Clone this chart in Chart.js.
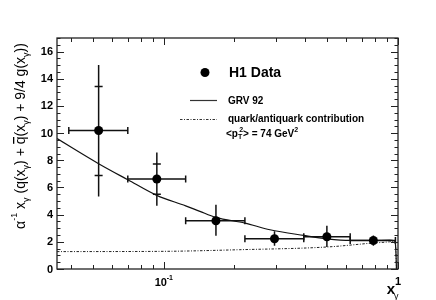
<!DOCTYPE html>
<html>
<head>
<meta charset="utf-8">
<script src="https://cdn.jsdelivr.net/npm/chart.js@4/dist/chart.umd.min.js"></script>
<style>
html,body{margin:0;padding:0;background:#fff;}
#wrap{width:436px;height:300px;position:relative;}
</style>
</head>
<body>
<div id="wrap"><canvas id="c" width="436" height="300"></canvas></div>
<script>
// ---- data ----
const dataX      = [0.0527, 0.0934, 0.167, 0.297, 0.497, 0.785];
const dataY      = [10.19, 6.62, 3.55, 2.23, 2.37, 2.10];
const dataXLow   = [0.0393, 0.0702, 0.124, 0.222, 0.396, 0.625];
const dataXHigh  = [0.0702, 0.124, 0.222, 0.396, 0.625, 0.975];
const dataYLowTot  = [5.34, 4.65, 2.45, 1.71, 1.62, 1.71];
const dataYHighTot = [15.02, 8.57, 4.73, 2.77, 3.18, 2.47];
const dataYLowStat  = [6.88, 5.51, null, null, null, null];
const dataYHighStat = [13.43, 7.72, null, null, null, null];

const grvX = [0.035, 0.0527, 0.0702, 0.0933, 0.124, 0.1426, 0.1667, 0.222, 0.284, 0.396, 0.498, 0.624, 0.78, 0.92, 0.965, 0.975, 0.981, 0.985];
const grvY = [9.6, 7.75, 6.57, 5.42, 4.65, 4.24, 3.8, 3.38, 2.89, 2.47, 2.22, 2.10, 2.10, 2.12, 2.08, 1.85, 1.0, 0.0];

const qX = [0.035, 0.1, 0.211, 0.498, 0.78, 0.92, 0.965, 0.978, 0.985];
const qY = [1.28, 1.30, 1.42, 1.62, 1.91, 2.0, 2.05, 1.6, 0.0];

const xMajorTicks = [0.1, 1];
const xMajorLabels = ['10', '1'];
const xMajorSup = ['-1', ''];
const xMinorTicks = [0.04,0.05,0.06,0.07,0.08,0.09,0.2,0.3,0.4,0.5,0.6,0.7,0.8,0.9];
const yMajorTicks = [0,2,4,6,8,10,12,14,16];
const yTickLabels = ['0','2','4','6','8','10','12','14','16'];
const legendLabels = ['H1 Data', 'GRV 92', 'quark/antiquark contribution'];

const FONT = '"Liberation Sans", Arial, Helvetica, sans-serif';

const framePlugin = {
  id: 'frame',
  beforeDatasetsDraw(chart) {
    const ctx = chart.ctx, xs = chart.scales.x, ys = chart.scales.y;
    ctx.save();
    ctx.strokeStyle = '#111';
    ctx.lineWidth = 1.5;
    for (let i = 0; i < dataX.length; i++) {
      const px = xs.getPixelForValue(dataX[i]);
      const py = ys.getPixelForValue(dataY[i]);
      const x1 = xs.getPixelForValue(dataXLow[i]);
      const x2 = xs.getPixelForValue(dataXHigh[i]);
      const y1 = ys.getPixelForValue(dataYLowTot[i]);
      const y2 = ys.getPixelForValue(dataYHighTot[i]);
      ctx.beginPath();
      ctx.moveTo(x1, py); ctx.lineTo(x2, py);
      ctx.moveTo(x1, py - 3.5); ctx.lineTo(x1, py + 3.5);
      ctx.moveTo(x2, py - 3.5); ctx.lineTo(x2, py + 3.5);
      ctx.moveTo(px, y1); ctx.lineTo(px, y2);
      if (dataYLowStat[i] !== null) {
        const s1 = ys.getPixelForValue(dataYLowStat[i]);
        const s2 = ys.getPixelForValue(dataYHighStat[i]);
        ctx.moveTo(px - 4, s1); ctx.lineTo(px + 4, s1);
        ctx.moveTo(px - 4, s2); ctx.lineTo(px + 4, s2);
      }
      ctx.stroke();
    }
    ctx.restore();
  },
  afterDraw(chart) {
    const ctx = chart.ctx, xs = chart.scales.x, ys = chart.scales.y;
    const a = chart.chartArea;
    ctx.save();
    ctx.strokeStyle = '#222';
    ctx.lineWidth = 1.3;
    ctx.strokeRect(a.left, a.top, a.right - a.left, a.bottom - a.top);
    ctx.lineWidth = 1;
    ctx.beginPath();
    for (let v = 0; v <= 17.001; v += 0.5) {
      const py = Math.round(ys.getPixelForValue(v)) + 0.5;
      const major = Math.abs(v / 2 - Math.round(v / 2)) < 1e-6;
      const len = major ? 7 : 3.5;
      ctx.moveTo(a.left, py); ctx.lineTo(a.left + len, py);
      ctx.moveTo(a.right, py); ctx.lineTo(a.right - len, py);
    }
    xMajorTicks.concat(xMinorTicks).forEach((v, k) => {
      const px = Math.round(xs.getPixelForValue(v)) + 0.5;
      const len = k < xMajorTicks.length ? 7 : 4;
      ctx.moveTo(px, a.bottom); ctx.lineTo(px, a.bottom - len);
      ctx.moveTo(px, a.top); ctx.lineTo(px, a.top + len);
    });
    ctx.stroke();

    ctx.fillStyle = '#000';
    ctx.font = 'bold 11px ' + FONT;
    ctx.textAlign = 'right';
    ctx.textBaseline = 'middle';
    yMajorTicks.forEach((v, i) => {
      ctx.fillText(yTickLabels[i], a.left - 4, ys.getPixelForValue(v) + 0.5);
    });
    xMajorTicks.forEach((v, i) => {
      const px = xs.getPixelForValue(v);
      ctx.font = 'bold 11px ' + FONT;
      ctx.textAlign = 'center';
      ctx.textBaseline = 'middle';
      if (xMajorSup[i]) {
        ctx.fillText(xMajorLabels[i], px - 3, 283);
        ctx.font = 'bold 7px ' + FONT;
        ctx.textAlign = 'left';
        ctx.fillText(xMajorSup[i], px + 3, 278);
      } else {
        ctx.fillText(xMajorLabels[i], px, 282);
      }
    });
    ctx.font = 'bold 15px ' + FONT;
    ctx.textAlign = 'right';
    ctx.textBaseline = 'alphabetic';
    ctx.fillText('x', 395, 294);
    ctx.font = '9px ' + FONT;
    ctx.textAlign = 'left';
    ctx.fillText('\u03b3', 394, 299);

    ctx.save();
    ctx.translate(25, 136);
    ctx.rotate(-Math.PI / 2);
    ctx.textBaseline = 'alphabetic';
    ctx.textAlign = 'left';
    const parts = [
      ['\u03b1', 14, 0], ['-1', 9, -8], [' x', 14, 0], ['\u03b3', 9, 4],
      [' (q(x', 14, 0], ['\u03b3', 9, 4], [') + ', 14, 0], ['q', 14, 0, 'bar'], ['(x', 14, 0], ['\u03b3', 9, 4],
      [') + 9/4 g(x', 14, 0], ['\u03b3', 9, 4], ['))', 14, 0]
    ];
    let total = 0;
    parts.forEach(p => { ctx.font = p[1] + 'px ' + FONT; total += ctx.measureText(p[0]).width; });
    let cx = -total / 2;
    parts.forEach(p => {
      ctx.font = p[1] + 'px ' + FONT;
      const w = ctx.measureText(p[0]).width;
      ctx.fillText(p[0], cx, p[2]);
      if (p[3] === 'bar') {
        ctx.fillRect(cx + 0.5, -12, w - 1, 1.3);
      }
      cx += w;
    });
    ctx.restore();

    ctx.fillStyle = '#000';
    ctx.beginPath(); ctx.arc(205, 72.5, 4.5, 0, 2 * Math.PI); ctx.fill();
    ctx.font = 'bold 14px ' + FONT;
    ctx.textAlign = 'left'; ctx.textBaseline = 'middle';
    ctx.fillText(legendLabels[0], 229, 73);
    ctx.strokeStyle = '#333'; ctx.lineWidth = 1.2;
    ctx.beginPath(); ctx.moveTo(190, 100.5); ctx.lineTo(217, 100.5); ctx.stroke();
    ctx.setLineDash([2.5, 1.5, 1, 1.5]);
    ctx.beginPath(); ctx.moveTo(180, 119.5); ctx.lineTo(217, 119.5); ctx.stroke();
    ctx.setLineDash([]);
    ctx.font = 'bold 10px ' + FONT;
    ctx.fillText(legendLabels[1], 228, 101);
    ctx.fillText(legendLabels[2], 228, 119.5);
    let tx = 226;
    const seg = [['<p', 10, 134], ['T', 7, 137], ['2', 7, 130], ['> = 74 GeV', 10, 134], ['2', 7, 130]];
    seg.forEach(s => {
      ctx.font = 'bold ' + s[1] + 'px ' + FONT;
      ctx.fillText(s[0], tx, s[2]);
      tx += ctx.measureText(s[0]).width + (s[0] === 'T' ? -3 : 0);
    });
    ctx.restore();
  }
};

new Chart(document.getElementById('c'), {
  type: 'scatter',
  data: {
    datasets: [
      {
        label: legendLabels[0],
        data: dataX.map((x, i) => ({x: x, y: dataY[i]})),
        backgroundColor: '#000', borderColor: '#000', borderWidth: 0,
        pointRadius: 4.5, pointHoverRadius: 4.5, order: 0
      },
      {
        label: legendLabels[1],
        data: grvX.map((x, i) => ({x: x, y: grvY[i]})),
        showLine: true, borderColor: '#111', borderWidth: 1.2,
        pointRadius: 0, cubicInterpolationMode: 'monotone', order: 1
      },
      {
        label: legendLabels[2],
        data: qX.map((x, i) => ({x: x, y: qY[i]})),
        showLine: true, borderColor: '#222', borderWidth: 1,
        borderDash: [2.5, 1.5, 1, 1.5],
        pointRadius: 0, cubicInterpolationMode: 'monotone', order: 2
      }
    ]
  },
  options: {
    responsive: false,
    animation: false,
    layout: { padding: { left: 57, right: 38, top: 38, bottom: 31 } },
    plugins: { legend: { display: false }, tooltip: { enabled: false } },
    scales: {
      x: { type: 'logarithmic', min: 0.035, max: 1, display: false },
      y: { type: 'linear', min: 0, max: 17, display: false }
    }
  },
  plugins: [framePlugin]
});
</script>
</body>
</html>
